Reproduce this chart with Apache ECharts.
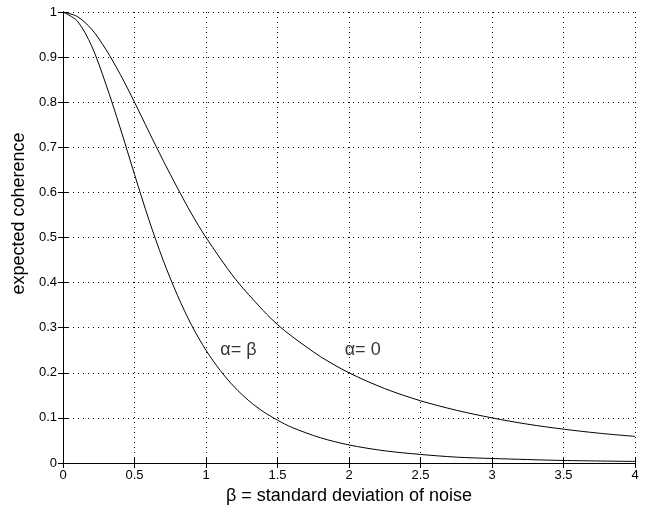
<!DOCTYPE html>
<html>
<head>
<meta charset="utf-8">
<script src="https://cdn.jsdelivr.net/npm/echarts@6/dist/echarts.min.js"></script>
<style>
  html, body { margin: 0; padding: 0; background: #fff; }
  #chartdiv { width: 646px; height: 514px; }
</style>
</head>
<body>
<div id="chartdiv"></div>
<script>
// values
var betaAlpha0 = [0, 0.1, 0.2, 0.3, 0.4, 0.5, 0.6, 0.7, 0.8, 0.9, 1.0, 1.2, 1.4, 1.5, 1.6, 1.8, 2.0, 2.25, 2.5, 2.75, 3.0, 3.25, 3.5, 3.75, 4.0];
var cohAlpha0 = [1, 0.99, 0.962, 0.917, 0.862, 0.8, 0.735, 0.671, 0.61, 0.552, 0.5, 0.41, 0.338, 0.307, 0.281, 0.236, 0.2, 0.165, 0.138, 0.117, 0.1, 0.086, 0.075, 0.066, 0.059];

var betaAlphaBeta = [0, 0.1, 0.2, 0.3, 0.4, 0.5, 0.6, 0.7, 0.8, 0.9, 1.0, 1.1, 1.2, 1.3, 1.4, 1.5, 1.6, 1.8, 2.0, 2.25, 2.5, 2.75, 3.0, 3.5, 4.0];
var cohAlphaBeta = [1, 0.98, 0.925, 0.84, 0.743, 0.64, 0.54, 0.45, 0.372, 0.305, 0.25, 0.205, 0.168, 0.138, 0.114, 0.095, 0.079, 0.056, 0.04, 0.027, 0.019, 0.013, 0.01, 0.0056, 0.0035];

var curveLabels = [
    [1.1, 0.25, '\u03b1= \u03b2'],
    [1.97, 0.25, '\u03b1= 0']
];

function zip(xs, ys) {
    var out = [];
    for (var i = 0; i < xs.length; i++) out.push([xs[i], ys[i]]);
    return out;
}

var font = 'Arial, "Liberation Sans", sans-serif';

var tickLabel = { color: '#000', fontFamily: font, fontSize: 13, margin: 6 };
var axisLineStyle = { show: true, lineStyle: { color: '#000', width: 1 } };
var tickStyle = { show: true, inside: true, length: 5, lineStyle: { color: '#000' } };
var gridLine = { show: true, lineStyle: { color: '#000', type: [1, 4], width: 1 } };

var options = {
    animation: false,
    backgroundColor: '#fff',
    grid: { left: 63, right: 11, top: 12, bottom: 51 },
    xAxis: [
        {
            type: 'value', min: 0, max: 4, interval: 0.5,
            name: '\u03b2 = standard deviation of noise',
            nameLocation: 'middle', nameGap: 24,
            nameTextStyle: { color: '#000', fontFamily: font, fontSize: 18 },
            axisLine: axisLineStyle,
            axisTick: tickStyle,
            axisLabel: tickLabel,
            splitLine: gridLine
        },
        {
            type: 'value', min: 0, max: 4, interval: 0.5, position: 'top',
            axisLine: axisLineStyle,
            axisTick: tickStyle,
            axisLabel: { show: false },
            splitLine: { show: false }
        }
    ],
    yAxis: [
        {
            type: 'value', min: 0, max: 1, interval: 0.1,
            name: 'expected coherence',
            nameLocation: 'middle', nameGap: 34,
            nameTextStyle: { color: '#000', fontFamily: font, fontSize: 18, padding: [0, 0, 0, 48] },
            axisLine: axisLineStyle,
            axisTick: tickStyle,
            axisLabel: tickLabel,
            splitLine: gridLine
        },
        {
            type: 'value', min: 0, max: 1, interval: 0.1, position: 'right',
            axisLine: axisLineStyle,
            axisTick: tickStyle,
            axisLabel: { show: false },
            splitLine: { show: false }
        }
    ],
    series: [
        {
            name: 'alpha = 0', type: 'line', data: zip(betaAlpha0, cohAlpha0),
            showSymbol: false, smooth: 0.3, color: '#000', lineStyle: { width: 1, color: '#000' }
        },
        {
            name: 'alpha = beta', type: 'line', data: zip(betaAlphaBeta, cohAlphaBeta),
            showSymbol: false, smooth: 0.3, color: '#000', lineStyle: { width: 1, color: '#000' }
        },
        {
            name: 'labels', type: 'scatter', symbolSize: 0, data: curveLabels,
            label: {
                show: true, position: 'right', distance: 0,
                formatter: function (d) { return d.value[2]; },
                color: '#000', fontFamily: font, fontSize: 18
            }
        }
    ]
};

var plot = echarts.init(document.getElementById('chartdiv'));
plot.setOption(options);
</script>
</body>
</html>
